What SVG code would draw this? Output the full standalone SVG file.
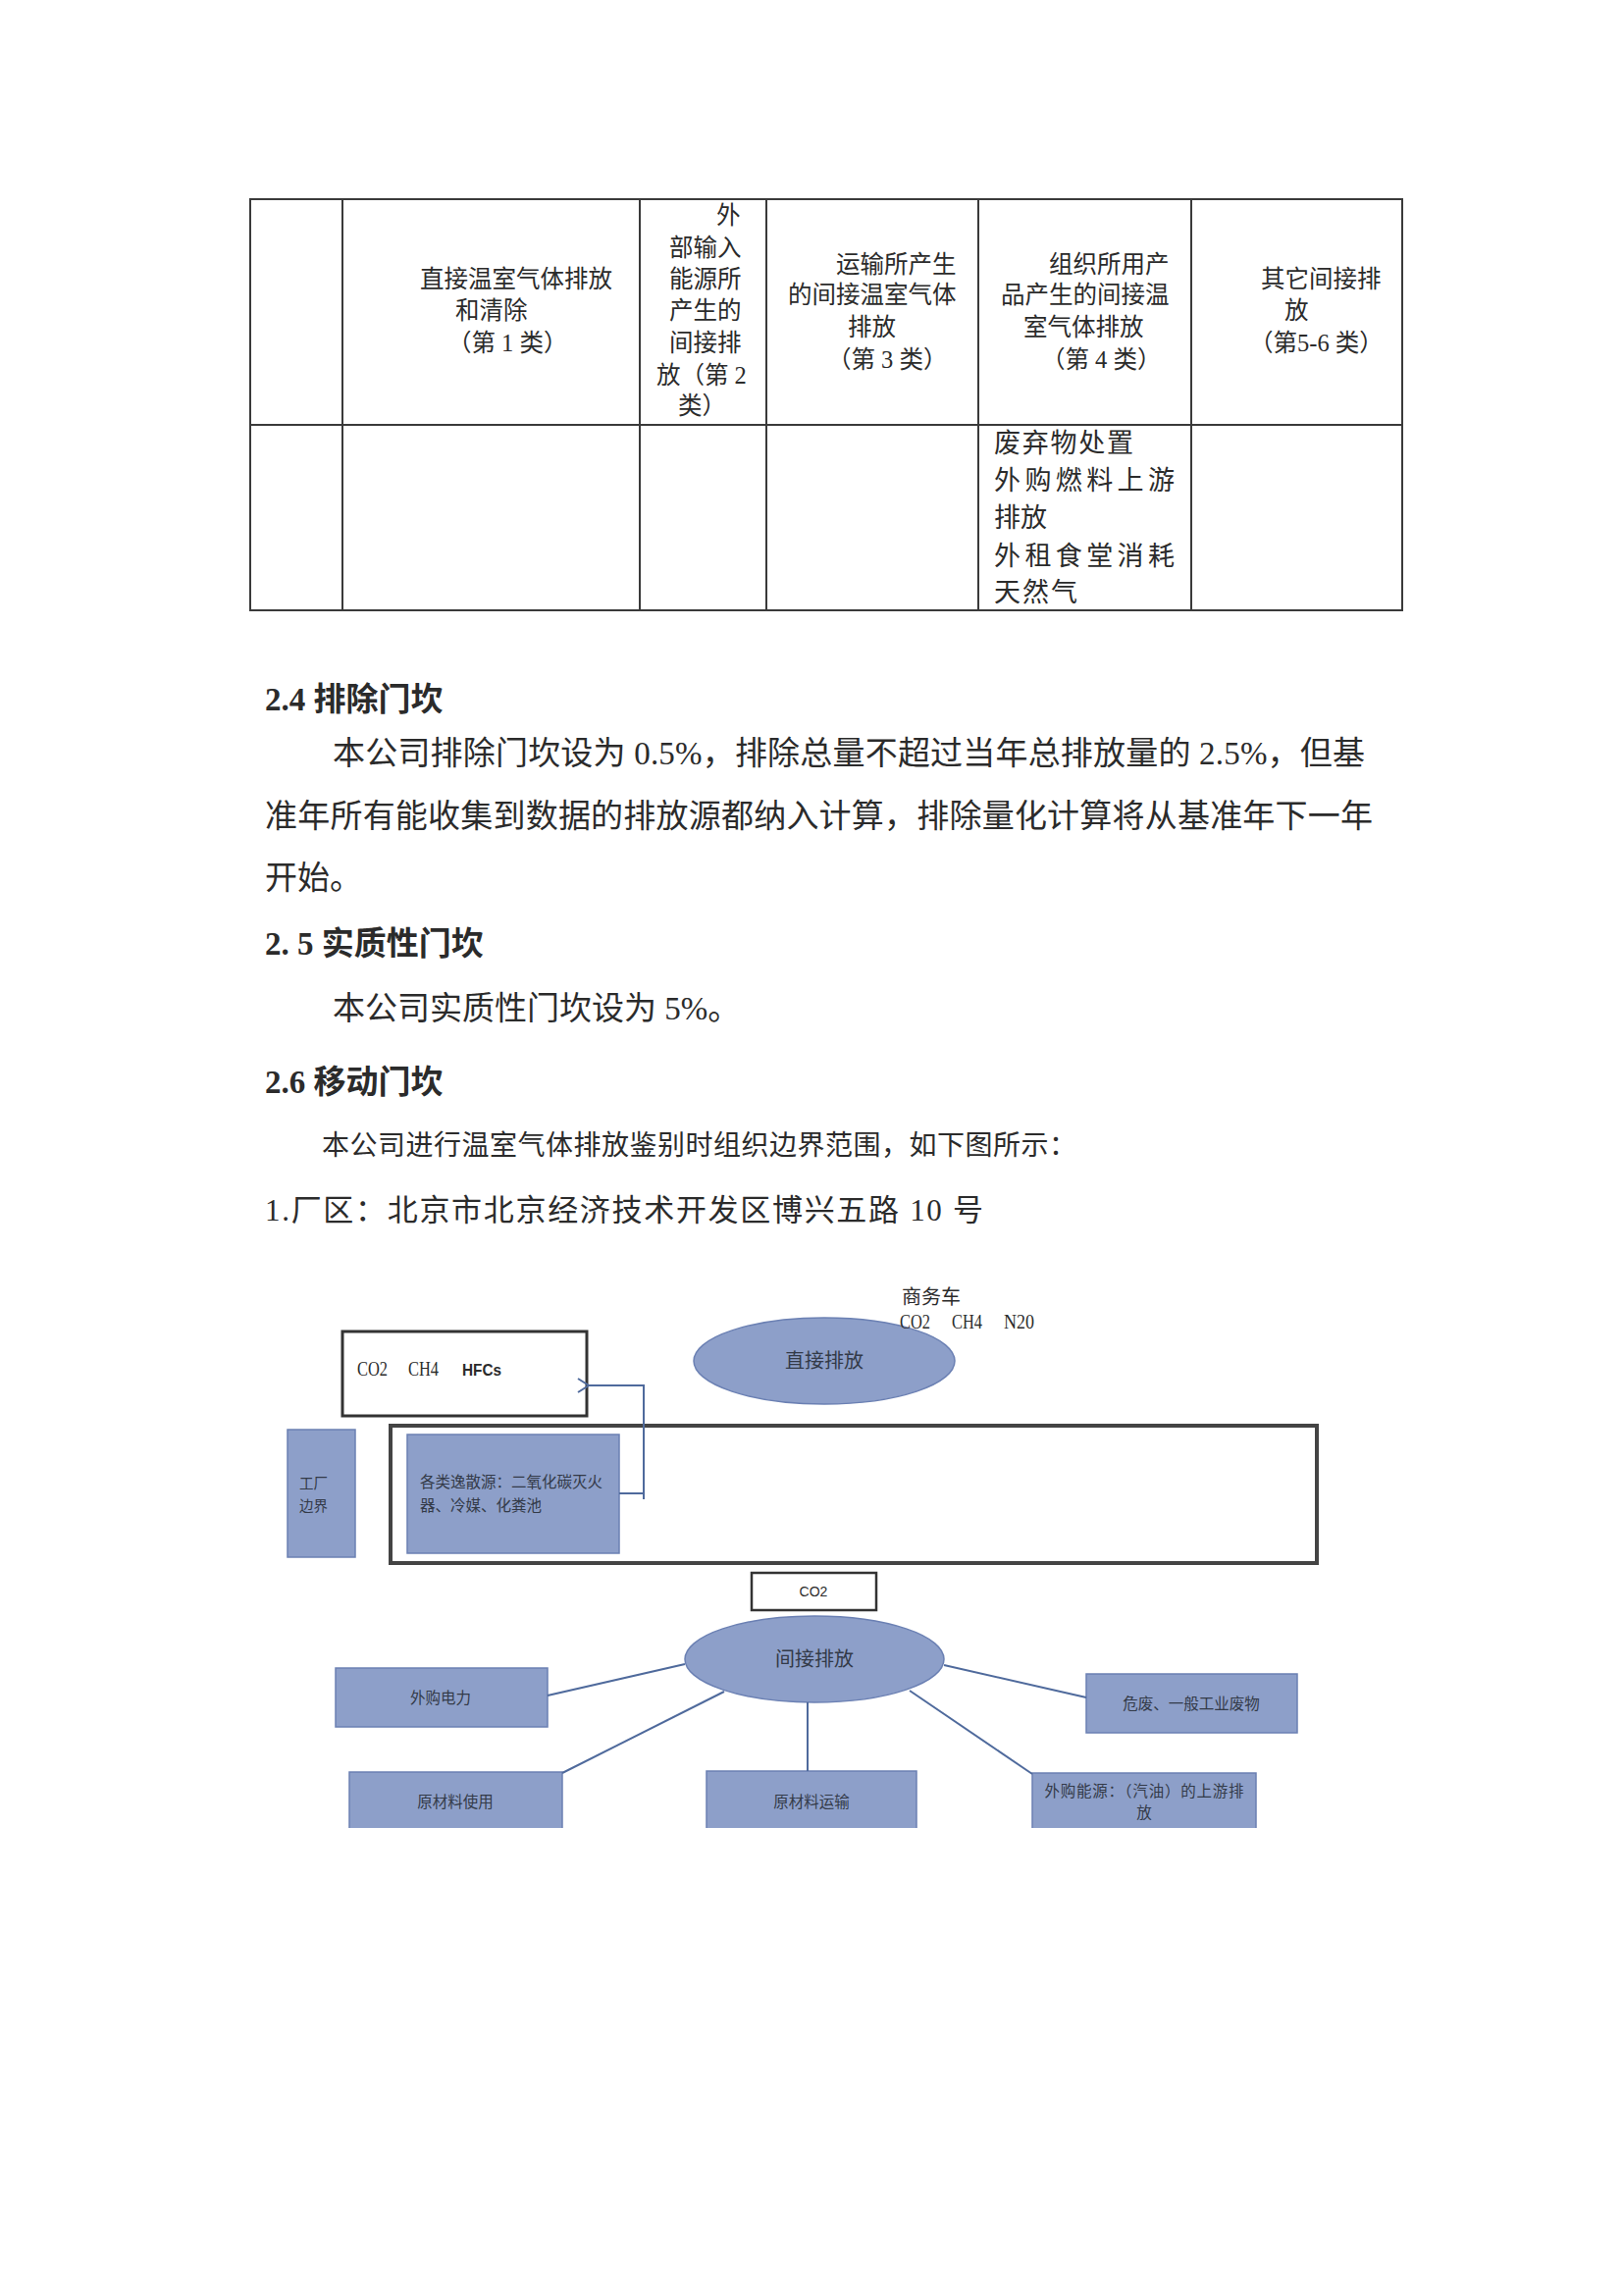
<svg xmlns="http://www.w3.org/2000/svg" width="1654" height="2340" viewBox="0 0 1654 2340">
<style>
.t{font-family:"Liberation Serif","Noto Sans CJK SC",serif;fill:#2b2b2b}
.tb{font-size:24.5px}
.body{font-size:33px}
.h{font-size:33px;font-weight:bold}
.d{font-family:"Liberation Serif","Noto Sans CJK SC",serif;fill:#333a48;font-size:15.5px}
.box{fill:#8d9fc9;stroke:#6b80b3;stroke-width:1.5}
.grid{stroke:#3a3a3a;stroke-width:2;fill:none}
.conn{stroke:#4f6a9c;stroke-width:2;fill:none}
</style>
<defs>
<marker id="arr" markerUnits="userSpaceOnUse" markerWidth="16" markerHeight="18" refX="1" refY="8" orient="auto">
<path d="M12,1 L1,8 L12,15" fill="none" stroke="#4f6a9c" stroke-width="2"/>
</marker>
</defs>
<rect width="1654" height="2340" fill="#ffffff"/>

<g id="table">
<rect class="grid" x="255" y="203" width="1174" height="419"/>
<line class="grid" x1="255" y1="433" x2="1429" y2="433"/>
<line class="grid" x1="349" y1="203" x2="349" y2="622"/>
<line class="grid" x1="652" y1="203" x2="652" y2="622"/>
<line class="grid" x1="781" y1="203" x2="781" y2="622"/>
<line class="grid" x1="997" y1="203" x2="997" y2="622"/>
<line class="grid" x1="1214" y1="203" x2="1214" y2="622"/>
<g class="t tb">
<text x="428" y="293">直接温室气体排放</text>
<text x="464" y="325">和清除</text>
<text x="456" y="358">（第 1 类）</text>
<text x="730" y="228">外</text>
<text x="682" y="261">部输入</text>
<text x="682" y="293">能源所</text>
<text x="682" y="325">产生的</text>
<text x="682" y="358">间接排</text>
<text x="669" y="391">放（第 2</text>
<text x="691" y="422">类）</text>
<text x="852" y="278">运输所产生</text>
<text x="803" y="309">的间接温室气体</text>
<text x="864" y="342">排放</text>
<text x="843" y="375">（第 3 类）</text>
<text x="1069" y="278">组织所用产</text>
<text x="1020" y="309">品产生的间接温</text>
<text x="1043" y="342">室气体排放</text>
<text x="1061" y="375">（第 4 类）</text>
<text x="1285" y="293">其它间接排</text>
<text x="1309" y="325">放</text>
<text x="1273" y="358">（第5-6 类）</text>
</g>
<g class="t" style="font-size:27px">
<text x="1013" y="461" textLength="142" lengthAdjust="spacing">废弃物处置</text>
<text x="1013" y="499" textLength="184" lengthAdjust="spacing">外购燃料上游</text>
<text x="1013" y="537">排放</text>
<text x="1013" y="576" textLength="184" lengthAdjust="spacing">外租食堂消耗</text>
<text x="1013" y="613" textLength="85" lengthAdjust="spacing">天然气</text>
</g>
</g>

<g id="text">
<text class="t h" x="270" y="724">2.4 排除门坎</text>
<text class="t body" x="339" y="779" textLength="1052" lengthAdjust="spacing">本公司排除门坎设为 0.5%，排除总量不超过当年总排放量的 2.5%，但基</text>
<text class="t body" x="270" y="843" textLength="1129" lengthAdjust="spacing">准年所有能收集到数据的排放源都纳入计算，排除量化计算将从基准年下一年</text>
<text class="t body" x="270" y="906">开始。</text>
<text class="t h" x="270" y="973">2. 5 实质性门坎</text>
<text class="t body" x="339" y="1039">本公司实质性门坎设为 5%。</text>
<text class="t h" x="270" y="1114">2.6 移动门坎</text>
<text class="t" style="font-size:28px" x="328" y="1177" textLength="769" lengthAdjust="spacing">本公司进行温室气体排放鉴别时组织边界范围，如下图所示：</text>
<text class="t" style="font-size:31px" x="270" y="1244" textLength="732" lengthAdjust="spacing">1.厂区：北京市北京经济技术开发区博兴五路 10 号</text>
</g>

<g id="diagram">
<g id="gas-box">
<rect x="349" y="1357" width="249" height="86" fill="#fff" stroke="#333" stroke-width="3"/>
<text class="t" style="font-size:20px" x="364" y="1402" textLength="31" lengthAdjust="spacingAndGlyphs">CO2</text>
<text class="t" style="font-size:20px" x="416" y="1402" textLength="31" lengthAdjust="spacingAndGlyphs">CH4</text>
<text style="font-family:'Liberation Sans',sans-serif;font-size:17px;font-weight:bold;fill:#2b2b2b" x="471" y="1402" textLength="40" lengthAdjust="spacingAndGlyphs">HFCs</text>
</g>
<g id="direct">
<ellipse class="box" cx="840" cy="1387" rx="133" ry="44"/>
<text class="d" style="font-size:20px" x="840" y="1394" text-anchor="middle">直接排放</text>
</g>
<g id="vehicle">
<text class="t" style="font-size:20px" x="919" y="1329">商务车</text>
<text class="t" style="font-size:20px" x="917" y="1354" textLength="31" lengthAdjust="spacingAndGlyphs">CO2</text>
<text class="t" style="font-size:20px" x="970" y="1354" textLength="31" lengthAdjust="spacingAndGlyphs">CH4</text>
<text class="t" style="font-size:20px" x="1023" y="1354" textLength="31" lengthAdjust="spacingAndGlyphs">N20</text>
</g>
<g id="boundary">
<rect x="398" y="1453" width="944" height="140" fill="none" stroke="#444" stroke-width="4"/>
</g>
<g id="factory">
<rect class="box" x="293" y="1457" width="69" height="130"/>
<text class="d" style="font-size:14.5px" x="305" y="1517">工厂</text>
<text class="d" style="font-size:14.5px" x="305" y="1540">边界</text>
</g>
<g id="fugitive">
<rect class="box" x="415" y="1462" width="216" height="121"/>
<text class="d" x="428" y="1516" textLength="186" lengthAdjust="spacing">各类逸散源：二氧化碳灭火</text>
<text class="d" x="428" y="1540">器、冷媒、化粪池</text>
</g>
<g id="co2-box">
<rect x="766" y="1603" width="127" height="38" fill="#fff" stroke="#333" stroke-width="2.5"/>
<text style="font-family:'Liberation Sans',sans-serif;font-size:14px;fill:#2b2b2b" x="829" y="1627" text-anchor="middle">CO2</text>
</g>
<g id="indirect">
<ellipse class="box" cx="830" cy="1691" rx="132" ry="44"/>
<text class="d" style="font-size:20px" x="830" y="1698" text-anchor="middle">间接排放</text>
</g>
<g id="electricity">
<rect class="box" x="342" y="1700" width="216" height="60"/>
<text class="d" x="449" y="1736" text-anchor="middle">外购电力</text>
</g>
<g id="waste">
<rect class="box" x="1107" y="1706" width="215" height="60"/>
<text class="d" x="1214" y="1742" text-anchor="middle">危废、一般工业废物</text>
</g>
<g id="material-use">
<rect x="356" y="1806" width="217" height="57" fill="#8d9fc9"/>
<path d="M356,1863 V1806 H573 V1863" fill="none" stroke="#6b80b3" stroke-width="1.5"/>
<text class="d" x="464" y="1842" text-anchor="middle">原材料使用</text>
</g>
<g id="material-transport">
<rect x="720" y="1805" width="214" height="58" fill="#8d9fc9"/>
<path d="M720,1863 V1805 H934 V1863" fill="none" stroke="#6b80b3" stroke-width="1.5"/>
<text class="d" x="827" y="1842" text-anchor="middle">原材料运输</text>
</g>
<g id="fuel-upstream">
<rect x="1052" y="1807" width="228" height="56" fill="#8d9fc9"/>
<path d="M1052,1863 V1807 H1280 V1863" fill="none" stroke="#6b80b3" stroke-width="1.5"/>
<text class="d" x="1166" y="1831" text-anchor="middle" textLength="203" lengthAdjust="spacing">外购能源：（汽油）的上游排</text>
<text class="d" x="1166" y="1853" text-anchor="middle">放</text>
</g>
</g>

<g id="connectors">
<path class="conn" d="M631,1522 H656 M656,1528 V1412 H600" marker-end="url(#arr)"/>
<line class="conn" x1="558" y1="1728" x2="698" y2="1696"/>
<line class="conn" x1="573" y1="1807" x2="738" y2="1724"/>
<line class="conn" x1="823" y1="1735" x2="823" y2="1805"/>
<line class="conn" x1="962" y1="1697" x2="1107" y2="1730"/>
<line class="conn" x1="927" y1="1723" x2="1052" y2="1808"/>
</g>
</svg>
